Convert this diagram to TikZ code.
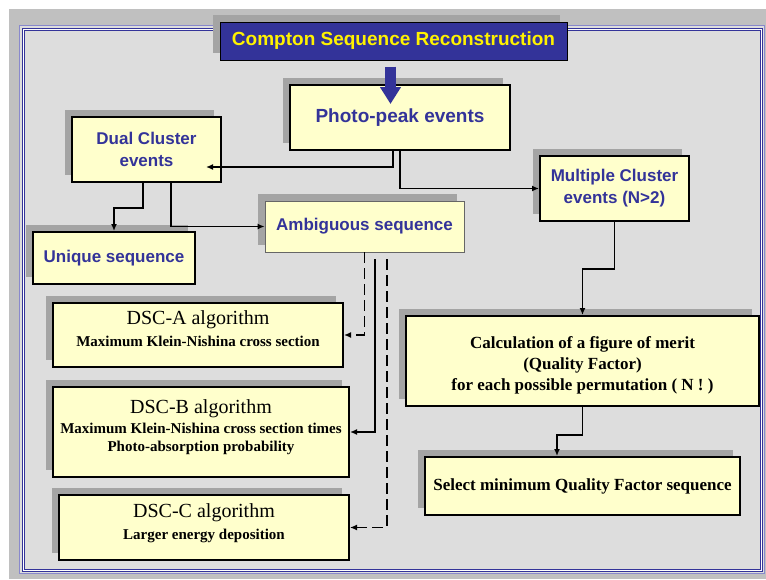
\documentclass[tikz,border=0pt]{standalone}
\usepackage{fontspec}
\setmainfont{Liberation Serif}
\newfontfamily\arialfont{Liberation Sans}
\usetikzlibrary{positioning,arrows.meta,shadows,calc}

\definecolor{panelgray}{HTML}{DDDDDD}
\definecolor{outergray}{HTML}{C0C0C0}
\definecolor{shadowgray}{HTML}{A4A4A4}
\definecolor{boxyellow}{HTML}{FFFFCC}
\definecolor{navy}{HTML}{333399}
\definecolor{framelav}{HTML}{8888CC}

\begin{document}
\begin{tikzpicture}[
    x=1pt, y=-1pt,
    boxstyle/.style={rectangle, draw, line width=2pt, fill=boxyellow, inner sep=0pt, align=center,
        drop shadow={shadow xshift=-7pt, shadow yshift=7pt, fill=shadowgray, opacity=1}},
    eventbox/.style={boxstyle, text=navy, font=\arialfont\bfseries\fontsize{17}{22}\selectfont},
    algobox/.style={boxstyle, text depth=12pt, font=\fontsize{20}{22}\selectfont},
    meritbox/.style={boxstyle, font=\bfseries\fontsize{17}{21}\selectfont},
    arrow/.style={-{Latex[length=7pt,width=6pt]}, line width=1.8pt},
    dasharrow/.style={arrow, dash pattern=on 11pt off 5pt}
]
\useasboundingbox (0,0) rectangle (766,579);

% Background and frame
\fill[outergray] (9,9) rectangle (766,579);
\draw[framelav, line width=1.5pt, fill=panelgray] (19.5,25.5) rectangle (764.5,573.5);
\draw[navy, line width=1pt, double=white, double distance=1pt] (23,29) rectangle (761.5,570.5);

% Title and first level
\node[boxstyle, fill=navy, line width=1pt, text=yellow, font=\arialfont\bfseries\fontsize{19}{22}\selectfont,
    minimum width=347pt, minimum height=38pt] (title) at (393.5,41) {Compton Sequence Reconstruction};
\node[eventbox, font=\arialfont\bfseries\fontsize{19}{22}\selectfont, minimum width=220pt, minimum height=65pt] (photo) at (400,117.5) {Photo-peak events};

% Cluster events
\node[eventbox, minimum width=149pt, minimum height=65pt] (dual) at (146.5,149.5) {Dual Cluster\\events};
\node[eventbox, minimum width=149pt, minimum height=65pt] (multi) at (614.5,188.5) {Multiple Cluster\\events (N>2)};

% Sequences
\node[eventbox, minimum width=162pt, minimum height=52pt] (unique) at (114,258) {Unique sequence};
\node[eventbox, line width=0.8pt, draw=black!60,
    minimum width=199pt, minimum height=51pt] (amb) at (364.5,226.5) {Ambiguous sequence};

% DSC algorithms (left column)
\node[algobox, minimum width=290pt, minimum height=64pt] (dsca) at (198,335)
    {DSC-A algorithm\\{\bfseries\fontsize{15}{20}\selectfont Maximum Klein-Nishina cross section}};
\node[algobox, minimum width=296pt, minimum height=90pt] (dscb) at (201,432)
    {DSC-B algorithm\\[-2pt]{\bfseries\fontsize{15}{18}\selectfont Maximum Klein-Nishina cross section times}\\[-4pt]{\bfseries\fontsize{15}{18}\selectfont Photo-absorption probability}};
\node[algobox, minimum width=290pt, minimum height=65pt] (dscc) at (204,527.5)
    {DSC-C algorithm\\{\bfseries\fontsize{15}{20}\selectfont Larger energy deposition}};

% Quality factor (right column)
\node[meritbox, minimum width=353pt, minimum height=90pt] (calc) at (582.5,361)
    {\rule{0pt}{20pt}Calculation of a figure of merit\\(Quality Factor)\\for each possible permutation ( N ! )};
\node[meritbox, minimum width=315pt, minimum height=58pt] (select) at (582.5,486)
    {Select minimum Quality Factor sequence};

% Connectors
\draw[navy, line width=11pt, -{Triangle[width=20pt,length=17pt]}] ($(title.south)+(-3,6)$) -- ($(photo.north)+(-9.5,20)$);
\draw[arrow] ([xshift=-7pt]photo.south) |- ([xshift=-16pt,yshift=-17.5pt]dual.east);
\draw[arrow] (photo.south) |- (multi.west);
\draw[arrow] ([xshift=-3.5pt]dual.south) -- ++(0,25) -| (unique.north);
\draw[arrow] ([xshift=24.5pt]dual.south) |- (amb.west);
\draw[dasharrow] (amb.south) |- (dsca.east);
\draw[arrow, line width=2.4pt] ([xshift=10.5pt,yshift=-7pt]amb.south) |- (dscb.east);
\draw[dasharrow] ([xshift=22.5pt,yshift=-7pt]amb.south) |- (dscc.east);
\draw[arrow] (multi.south) -- ++(0,47) -| (calc.north);
\draw[arrow] (calc.south) -- ++(0,28) -| ([xshift=-25.5pt]select.north);

\end{tikzpicture}
\end{document}
